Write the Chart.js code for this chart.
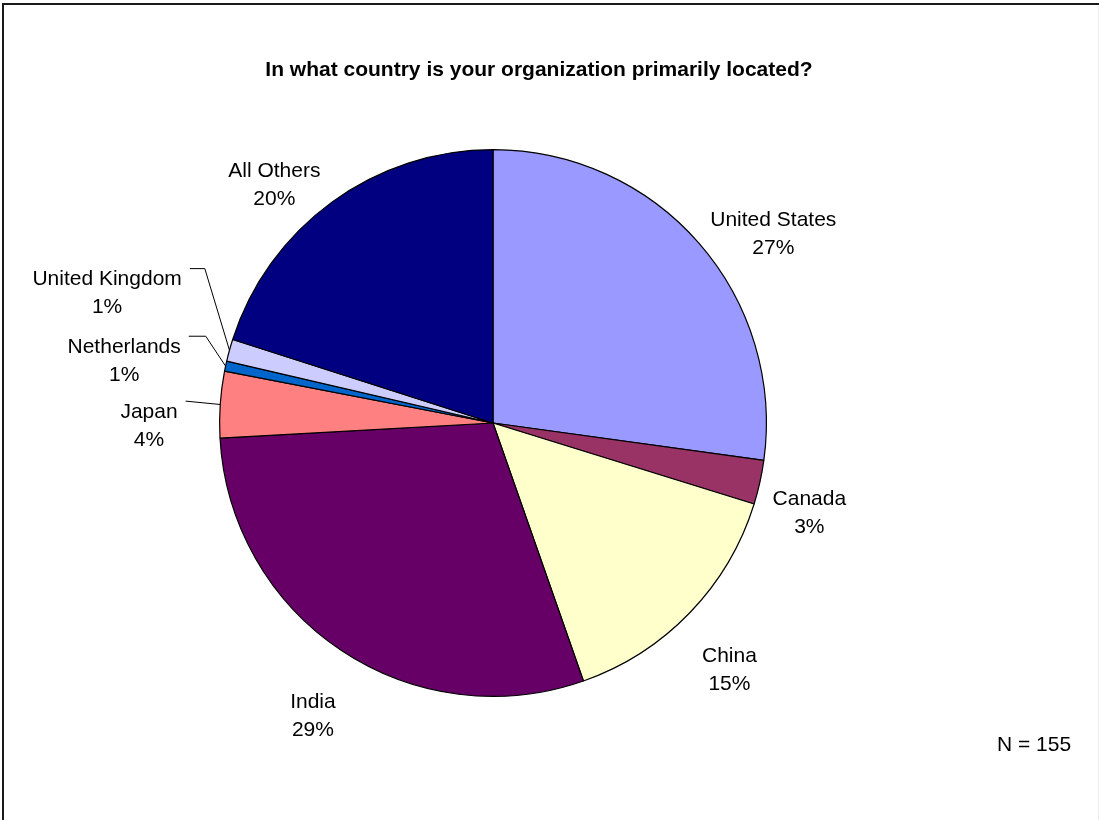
<!DOCTYPE html>
<html>
<head>
<meta charset="utf-8">
<title>Country of organization</title>
<script src="https://cdn.jsdelivr.net/npm/chart.js@4.4.1/dist/chart.umd.min.js"></script>
<style>
  html, body { margin: 0; padding: 0; background: #ffffff; }
  #wrap { width: 1099px; height: 820px; position: relative; }
</style>
</head>
<body>
<div id="wrap"><canvas id="countryChart" width="1099" height="820"></canvas></div>
<script>
  // survey shares, percent of respondents (N = 155)
  const countries = ["United States", "Canada", "China", "India", "Japan", "Netherlands", "United Kingdom", "All Others"];
  const shares = [27.1, 2.6, 14.8, 29.4, 3.9, 0.6, 1.3, 20.0];
  const sliceColors = ["#9999ff", "#993366", "#ffffcc", "#660066", "#ff8080", "#0066cc", "#ccccff", "#000080"];
  const respondents = 155;
  const chartTitle = "In what country is your organization primarily located?";

  // where each label block sits: distance from centre and angle shift (deg) off the slice middle;
  // elbow = length of the flat part of the leader line (0 = straight to the slice)
  const labelPlacement = [
    { dist: 338, turn: 7.1, leader: false },
    { dist: 329, turn: 3.4, leader: false },
    { dist: 342, turn: 2.3, leader: false },
    { dist: 344, turn: -2.2, leader: false },
    { dist: 344, turn: -4.4, leader: true, elbow: 0 },
    { dist: 374, turn: -2.5, leader: true, elbow: 17 },
    { dist: 407, turn: 3.1, leader: true, elbow: 15 },
    { dist: 323, turn: -6.5, leader: false }
  ];

  const labelFont = "21px 'Liberation Sans', Arial, sans-serif";
  const lineGap = 28;

  const sliceLabels = {
    id: "sliceLabels",
    afterDatasetsDraw(chart) {
      const ctx = chart.ctx;
      const arcs = chart.getDatasetMeta(0).data;
      ctx.save();
      ctx.font = labelFont;
      ctx.fillStyle = "#000000";
      ctx.textAlign = "center";
      ctx.textBaseline = "middle";
      arcs.forEach((arc, i) => {
        const p = arc.getProps(["x", "y", "startAngle", "endAngle", "outerRadius"], true);
        const mid = (p.startAngle + p.endAngle) / 2;
        const place = labelPlacement[i];
        const a = mid + place.turn * Math.PI / 180;
        const cx = p.x + place.dist * Math.cos(a);
        const cy = p.y + place.dist * Math.sin(a);
        const name = countries[i];
        const pct = Math.round(shares[i]) + "%";
        ctx.fillText(name, cx, cy - lineGap / 2);
        ctx.fillText(pct, cx, cy + lineGap / 2);

        if (place.leader) {
          const right = cx + ctx.measureText(name).width / 2;
          const top = cy - lineGap / 2 - 11;
          const ex = p.x + p.outerRadius * Math.cos(mid);
          const ey = p.y + p.outerRadius * Math.sin(mid);
          ctx.beginPath();
          ctx.strokeStyle = "#000000";
          ctx.lineWidth = 1;
          ctx.moveTo(right + 8, top);
          if (place.elbow) ctx.lineTo(right + 8 + place.elbow, top);
          ctx.lineTo(ex, ey);
          ctx.stroke();
        }
      });
      ctx.restore();
    }
  };

  const chartFrame = {
    id: "chartFrame",
    afterDraw(chart) {
      const ctx = chart.ctx;
      ctx.save();
      ctx.fillStyle = "#000000";
      ctx.textAlign = "center";
      ctx.textBaseline = "middle";
      ctx.font = "bold 21px 'Liberation Sans', Arial, sans-serif";
      ctx.fillText(chartTitle, 539, 70);

      ctx.font = labelFont;
      ctx.textAlign = "left";
      ctx.fillText("N = " + respondents, 997, 745);

      ctx.strokeStyle = "#1a1a1a";
      ctx.lineWidth = 2;
      ctx.beginPath();
      ctx.moveTo(3, 830);
      ctx.lineTo(3, 4);
      ctx.lineTo(1099, 4);
      ctx.stroke();
      ctx.strokeStyle = "#ececec";
      ctx.lineWidth = 1;
      ctx.beginPath();
      ctx.moveTo(1098.5, 6);
      ctx.lineTo(1098.5, 820);
      ctx.stroke();
      ctx.restore();
    }
  };

  new Chart(document.getElementById("countryChart"), {
    type: "pie",
    data: {
      labels: countries,
      datasets: [
        {
          data: shares,
          backgroundColor: sliceColors,
          borderColor: "#000000",
          borderWidth: 1.2,
          hoverOffset: 0
        }
      ]
    },
    options: {
      responsive: false,
      animation: false,
      layout: {
        padding: { left: 219, right: 332, top: 149, bottom: 123 }
      },
      plugins: {
        legend: { display: false },
        tooltip: { enabled: false },
        title: { display: false }
      }
    },
    plugins: [sliceLabels, chartFrame]
  });
</script>
</body>
</html>
